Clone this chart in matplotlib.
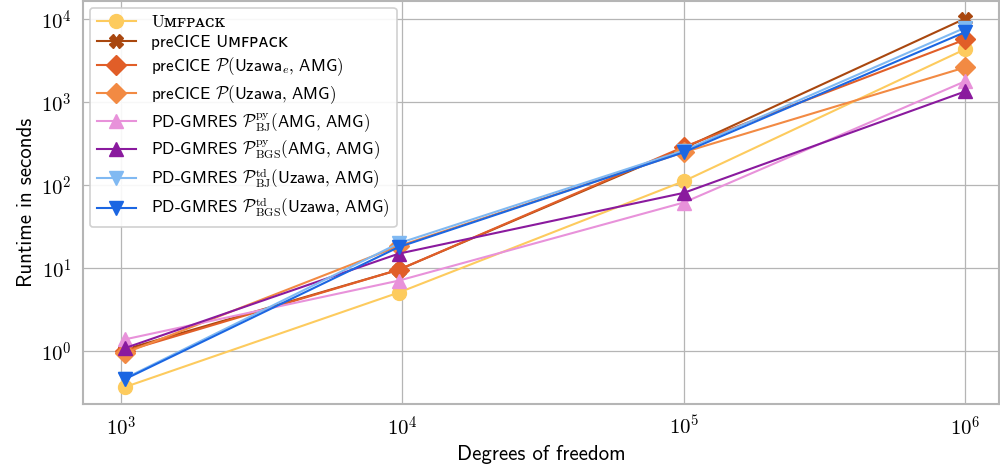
# laufzeiten der loeser, log-log
import numpy as np
import matplotlib
matplotlib.use("Agg")
import matplotlib.pyplot as plt
from matplotlib.ticker import FuncFormatter, LogLocator

plt.rcParams['font.family'] = ['cmss10', 'DejaVu Sans']
plt.rcParams['mathtext.fontset'] = 'cm'
plt.rcParams['axes.unicode_minus'] = False

dofs = [1030, 9700, 1.0e5, 1.0e6]

umfpack = [0.37, 5.1, 112, 4360]
precice_umfpack = [1.05, 9.6, 280, 10200]
precice_uzawa_e = [1.0, 9.6, 290, 5700]
precice_uzawa = [0.95, 18.5, 250, 2630]
bj_py = [1.39, 7.1, 62, 1790]
bgs_py = [1.09, 15.0, 81, 1350]
bj_td = [0.47, 20.0, 262, 7900]
bgs_td = [0.46, 18.0, 250, 7000]

series = [
    ("Uᴍꜰᴘᴀᴄᴋ", umfpack, "#fdcb5e", "o"),
    ("preCICE Uᴍꜰᴘᴀᴄᴋ", precice_umfpack, "#a9470f", "X"),
    (r"preCICE $\mathcal{P}(\mathsf{Uzawa}_e,\,\mathsf{AMG})$", precice_uzawa_e, "#e15e28", "D"),
    (r"preCICE $\mathcal{P}(\mathsf{Uzawa},\,\mathsf{AMG})$", precice_uzawa, "#f28a43", "D"),
    (r"PD-GMRES $\mathcal{P}^{\mathrm{py}}_{\mathrm{BJ}}(\mathsf{AMG},\,\mathsf{AMG})$", bj_py, "#e892da", "^"),
    (r"PD-GMRES $\mathcal{P}^{\mathrm{py}}_{\mathrm{BGS}}(\mathsf{AMG},\,\mathsf{AMG})$", bgs_py, "#8a1a9e", "^"),
    (r"PD-GMRES $\mathcal{P}^{\mathrm{td}}_{\mathrm{BJ}}(\mathsf{Uzawa},\,\mathsf{AMG})$", bj_td, "#80b9f2", "v"),
    (r"PD-GMRES $\mathcal{P}^{\mathrm{td}}_{\mathrm{BGS}}(\mathsf{Uzawa},\,\mathsf{AMG})$", bgs_td, "#1b66e2", "v"),
]

fig = plt.figure(figsize=(10, 4.76), dpi=100)
ax = fig.add_axes([0.083, 0.151, 0.916, 0.847])

for label, vals, color, marker in series:
    ax.plot(dofs, vals, color=color, marker=marker, markersize=10,
            linewidth=1.5, label=label)

ax.set_xscale('log')
ax.set_yscale('log')
ax.set_xlim(10**2.865, 10**6.12)
ax.set_ylim(10**-0.636, 10**4.22)

fmt = FuncFormatter(lambda v, p: r"$10^{%d}$" % int(round(np.log10(v))))
ax.xaxis.set_major_locator(LogLocator(base=10, numticks=10))
ax.yaxis.set_major_locator(LogLocator(base=10, numticks=10))
ax.xaxis.set_major_formatter(fmt)
ax.yaxis.set_major_formatter(fmt)
ax.minorticks_off()
ax.tick_params(length=0, labelsize=15, pad=8)

ax.grid(True, color='#b5b5b5', linewidth=0.9)
ax.set_axisbelow(True)
for s in ax.spines.values():
    s.set_color('#b5b5b5')
    s.set_linewidth(1.5)

ax.set_xlabel("Degrees of freedom", fontsize=15)
ax.set_ylabel("Runtime in seconds", fontsize=15)

leg = ax.legend(loc='upper left', fontsize=12.3, labelspacing=0.3,
                handlelength=2.3, handletextpad=0.9, borderaxespad=0.4,
                framealpha=0.9, edgecolor='#cccccc', fancybox=True)
leg.get_frame().set_linewidth(1.2)
# Umfpack allein in serifen, wie im original
leg.get_texts()[0].set_family(['cmr10', 'DejaVu Serif', 'DejaVu Sans'])

plt.savefig("out.png", dpi=100)
plt.close()
